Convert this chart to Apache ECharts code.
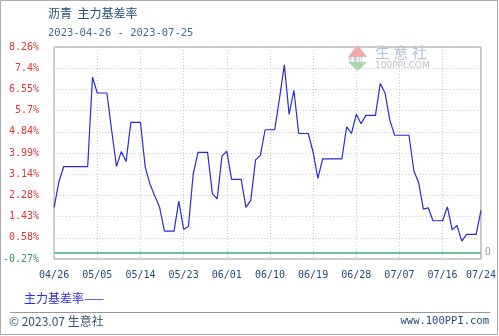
<!DOCTYPE html>
<html><head><meta charset="utf-8">
<script src="https://cdn.jsdelivr.net/npm/echarts@6.0.0/dist/echarts.min.js"></script>
<style>html,body{margin:0;padding:0;background:#fff}#c{width:499px;height:336px}</style>
</head><body><div id="c"></div>
<script>
const dates = [
'04/26','04/27','04/28','04/29','04/30',
'05/01','05/02','05/03','05/04','05/05','05/06','05/07','05/08','05/09','05/10','05/11','05/12','05/13','05/14','05/15',
'05/16','05/17','05/18','05/19','05/20','05/21','05/22','05/23','05/24','05/25','05/26','05/27','05/28','05/29','05/30','05/31',
'06/01','06/02','06/03','06/04','06/05','06/06','06/07','06/08','06/09','06/10','06/11','06/12','06/13','06/14','06/15',
'06/16','06/17','06/18','06/19','06/20','06/21','06/22','06/23','06/24','06/25','06/26','06/27','06/28','06/29','06/30',
'07/01','07/02','07/03','07/04','07/05','07/06','07/07','07/08','07/09','07/10','07/11','07/12','07/13','07/14','07/15',
'07/16','07/17','07/18','07/19','07/20','07/21','07/22','07/23','07/24'];
const basisRate = [
1.81,2.84,3.45,3.45,3.45,
3.45,3.45,3.45,7.05,6.41,6.41,6.41,4.90,3.45,4.05,3.65,5.23,5.23,5.23,3.42,
2.74,2.26,1.81,0.85,0.85,0.85,2.06,0.93,1.04,3.15,4.02,4.02,4.02,2.36,2.15,3.87,
4.07,2.93,2.93,2.93,1.81,2.09,3.72,3.90,4.93,4.93,4.93,6.20,7.54,5.55,6.52,
4.78,4.78,4.78,4.03,2.97,3.76,3.76,3.76,3.76,3.76,5.05,4.78,5.55,5.17,5.51,
5.51,5.51,6.79,6.41,5.32,4.71,4.71,4.71,4.71,3.28,2.81,1.74,1.79,1.27,1.27,
1.27,1.83,0.90,1.08,0.45,0.72,0.72,0.72,1.69];
const yTickLabels = ['-0.27%','0.58%','1.43%','2.28%','3.14%','3.99%','4.84%','5.7%','6.55%','7.4%','8.26%'];
const yMin = -0.27, yMax = 8.26;
const seriesName = '主力基差率';

const showIdx = (i) => i % 9 === 0 || i === dates.length - 1;
const chart = echarts.init(document.getElementById('c'), null, {renderer: 'canvas'});
chart.setOption({
  animation: false,
  backgroundColor: '#fff',
  grid: {left: 48, right: 18, top: 47, bottom: 77, show: true, borderColor: '#999', borderWidth: 1, backgroundColor: 'transparent'},
  xAxis: {
    type: 'category', boundaryGap: false, data: dates,
    axisLine: {show: false}, axisTick: {show: false},
    axisLabel: {interval: (i) => showIdx(i), color: '#2a4a7a', fontSize: 10, fontFamily: 'DejaVu Sans Mono', margin: 11, showMaxLabel: true},
    splitLine: {show: true, interval: (i) => showIdx(i), lineStyle: {color: '#c8c8c8', type: [1, 2], width: 1}}
  },
  yAxis: [
    {type: 'value', min: yMin, max: yMax, show: false, splitLine: {show: false}},
    {type: 'value', min: 0, max: 10, interval: 1, position: 'left',
     axisLine: {show: false}, axisTick: {show: false},
     axisLabel: {formatter: (v) => yTickLabels[Math.round(v)], fontSize: 10, fontFamily: 'DejaVu Sans Mono', margin: 15,
       color: (v) => (Math.round(v) === 0 ? '#3a9a5a' : '#e03535')},
     splitLine: {show: true, lineStyle: {color: '#c8c8c8', type: [1, 2], width: 1}}}
  ],
  series: [{
    name: seriesName, type: 'line', yAxisIndex: 0, data: basisRate,
    showSymbol: false, symbol: 'none',
    lineStyle: {color: '#2a2ad0', width: 1.2},
    markLine: {silent: true, symbol: 'none', animation: false,
      data: [{yAxis: 0}],
      lineStyle: {color: '#72c095', width: 2, type: 'solid'},
      label: {show: true, position: 'end', formatter: '0', color: '#999', fontSize: 10, distance: 4}}
  }],
  graphic: [
    {type: 'rect', shape: {x: 0.5, y: 0.5, width: 497, height: 334}, style: {fill: 'none', stroke: '#aaa', lineWidth: 1}, silent: true},
    {type: 'text', left: 48, top: 7, style: {text: '沥青  主力基差率', fill: '#1f4e79', font: '12px "Noto Sans CJK SC"'}},
    {type: 'text', left: 48, top: 28, style: {text: '2023-04-26 - 2023-07-25', fill: '#4a6a8a', font: '10.5px "DejaVu Sans Mono"'}},
    {type: 'text', left: 24, top: 292, style: {text: seriesName + '——', fill: '#2b2bd9', font: '12px "Noto Sans CJK SC"'}},
    {type: 'line', shape: {x1: 10, y1: 312.5, x2: 490, y2: 312.5}, style: {stroke: '#999', lineWidth: 1}},
    {type: 'text', left: 9, top: 315, style: {text: '© 2023.07 生意社', fill: '#3a5070', font: '12px "Noto Sans CJK SC"'}},
    {type: 'text', right: 10, top: 316, style: {text: 'www.100PPI.com', fill: '#2a4a7a', font: '10.5px "DejaVu Sans Mono"'}},
    {type: 'polygon', shape: {points: [[348, 57], [357.5, 45], [367, 57]]}, style: {fill: '#f0a8a8'}, silent: true},
    {type: 'polygon', shape: {points: [[348, 62], [357.5, 71], [367, 62]]}, style: {fill: '#a8d8a8'}, silent: true},
    {type: 'text', left: 348, top: 56.5, style: {text: '生意社', fill: '#9ab', font: '5px "Noto Sans CJK SC"'}, silent: true},
    {type: 'text', left: 375, top: 45, style: {text: '生 意 社', fill: '#b4c4d4', font: '15px "Noto Sans CJK SC"'}, silent: true},
    {type: 'text', left: 375, top: 61, style: {text: '100PPI.COM', fill: '#c4c4c4', font: '9px "DejaVu Sans"'}, silent: true}
  ]
});
</script></body></html>
